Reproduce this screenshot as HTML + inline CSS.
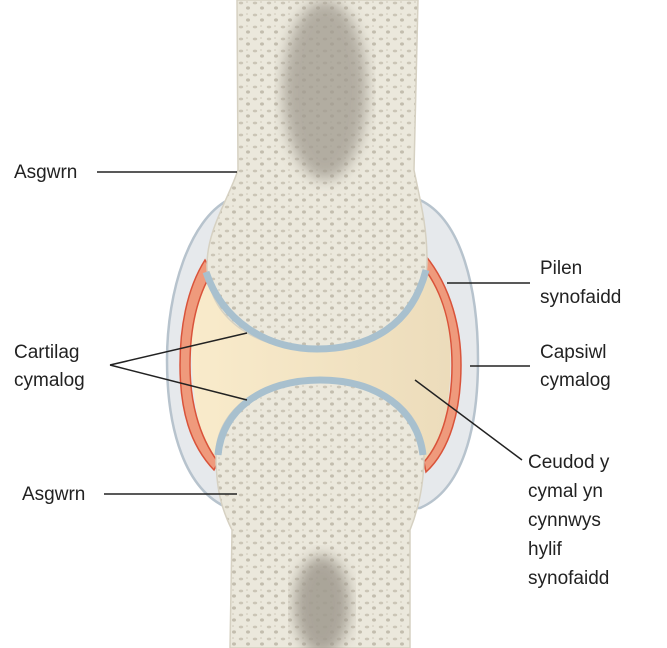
<!DOCTYPE html>
<html><head><meta charset="utf-8"><style>
html,body{margin:0;padding:0;background:#fff;}
svg{display:block;}
text{font-family:"Liberation Sans",sans-serif;font-size:19px;fill:#222;}
</style></head><body>
<svg width="667" height="648" viewBox="0 0 667 648" xmlns="http://www.w3.org/2000/svg">
<defs>
<pattern id="sp" width="14" height="12" patternUnits="userSpaceOnUse">
<rect width="14" height="12" fill="#ebe8dc"/>
<ellipse cx="3" cy="3" rx="2.2" ry="1.4" fill="#cbc5b6"/>
<ellipse cx="10" cy="8" rx="2" ry="1.6" fill="#c3bdae"/>
<ellipse cx="9" cy="2" rx="1" ry="0.8" fill="#d3cdbf"/>
</pattern>
<pattern id="dk" width="12" height="10" patternUnits="userSpaceOnUse">
<rect width="12" height="10" fill="#a9a397"/>
<ellipse cx="3" cy="3" rx="2.5" ry="1.6" fill="#78736a"/>
<ellipse cx="9" cy="7" rx="2.2" ry="1.8" fill="#6f6a61"/>
</pattern>
<linearGradient id="cav" x1="0" x2="1"><stop offset="0" stop-color="#f9ebcb"/><stop offset="1" stop-color="#ecdcbb"/></linearGradient>
<filter id="bl"><feGaussianBlur stdDeviation="7"/></filter>
</defs>
<!-- capsule -->
<path d="M228 200 C190 220 167 290 167 360 C167 430 185 490 228 508 L420 508 C462 490 478 430 478 360 C478 290 462 220 420 200 Z" fill="#e6e9ec" stroke="#b7c3cd" stroke-width="2.5"/>
<!-- cavity -->
<path d="M203 262 C186 300 186 420 215 468 L428 470 C458 420 458 300 428 258 Z" fill="url(#cav)"/>
<!-- red membranes -->
<path d="M205 260 C186 290 180 330 180 365 C180 410 190 445 214 470 L218 462 C198 435 190 400 190 365 C190 325 198 295 212 272 Z" fill="#ef9a7c" stroke="#d9533a" stroke-width="1.5"/>
<path d="M425 255 C452 288 461 330 461 365 C461 410 450 450 426 472 L424 462 C443 440 452 405 452 365 C452 325 442 292 424 268 Z" fill="#ef9a7c" stroke="#d9533a" stroke-width="1.5"/>
<!-- upper bone -->
<path d="M237 0 L418 0 L414 170 C420 200 427 225 427 260 C427 315 380 350 317 350 C255 350 207 318 207 265 C207 230 228 200 238 170 Z" fill="url(#sp)" stroke="#d6d1c2" stroke-width="1.5"/>
<ellipse cx="325" cy="90" rx="42" ry="90" fill="url(#dk)" filter="url(#bl)" opacity="0.75"/>
<path d="M206 272 C222 320 265 349 317 349 C370 349 412 325 426 270" fill="none" stroke="#a8c0ce" stroke-width="7"/>
<!-- lower bone -->
<path d="M230 648 L232 530 C222 510 216 490 216 455 C216 410 260 378 320 378 C380 378 424 410 424 455 C424 485 418 510 410 530 L410 648 Z" fill="url(#sp)" stroke="#d6d1c2" stroke-width="1.5"/>
<ellipse cx="322" cy="605" rx="28" ry="50" fill="url(#dk)" filter="url(#bl)" opacity="0.85"/>
<path d="M218 455 C222 410 262 380 320 380 C378 380 418 410 423 455" fill="none" stroke="#a8c0ce" stroke-width="7"/>
<!-- labels -->
<g stroke="#222" stroke-width="1.5" fill="none">
<line x1="97" y1="172" x2="237" y2="172"/>
<line x1="447" y1="283" x2="530" y2="283"/>
<line x1="110" y1="365" x2="247" y2="333"/>
<line x1="110" y1="365" x2="247" y2="400"/>
<line x1="470" y1="366" x2="530" y2="366"/>
<line x1="415" y1="380" x2="522" y2="460"/>
<line x1="104" y1="494" x2="237" y2="494"/>
</g>
<text x="14" y="178">Asgwrn</text>
<text x="540" y="274">Pilen</text>
<text x="540" y="303">synofaidd</text>
<text x="14" y="358">Cartilag</text>
<text x="14" y="386">cymalog</text>
<text x="540" y="358">Capsiwl</text>
<text x="540" y="386">cymalog</text>
<text x="528" y="468">Ceudod y</text>
<text x="528" y="497">cymal yn</text>
<text x="528" y="526">cynnwys</text>
<text x="528" y="555">hylif</text>
<text x="528" y="584">synofaidd</text>
<text x="22" y="500">Asgwrn</text>
</svg>
</body></html>
